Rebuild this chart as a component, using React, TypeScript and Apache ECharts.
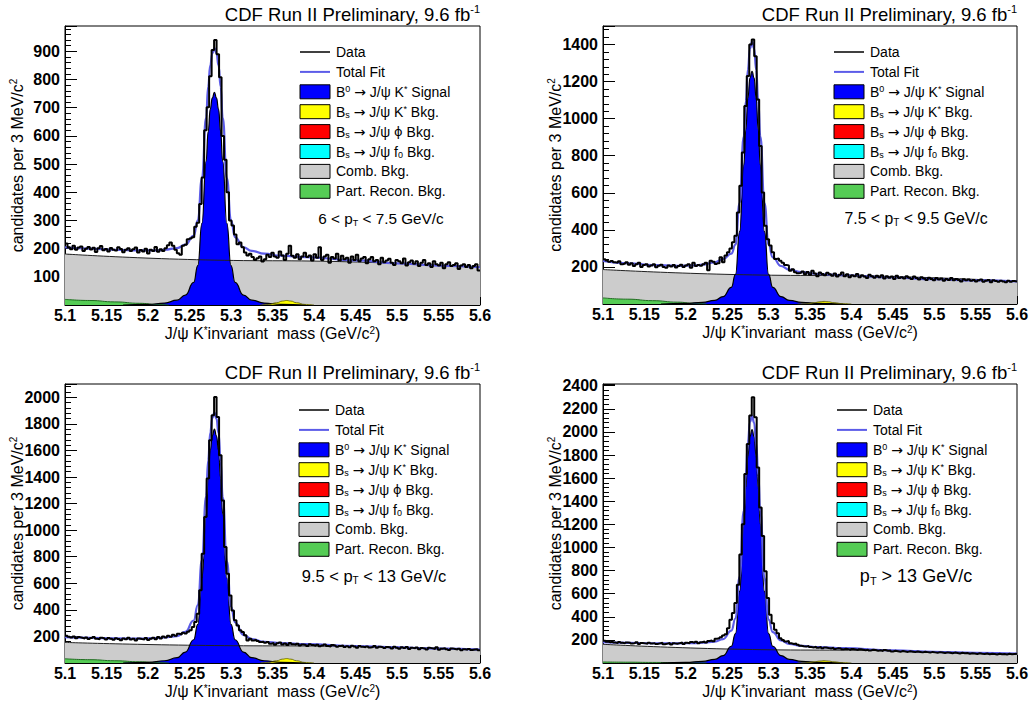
import React, { useEffect, useRef } from 'react';
import * as echarts from 'echarts';

// ---------- axis / binning ----------
const X_MIN = 5.1;
const X_MAX = 5.6;
const N_BINS = 167;
const yMaxes = [990, 1500, 2100, 2415];
const yIntervals = [100, 200, 200, 200];

// ---------- histogram data (candidates per bin) ----------
const p1Data = [
  218, 205, 198, 210, 196, 204, 208, 192, 200, 206,
  197, 203, 188, 201, 209, 194, 199, 190, 202, 196,
  193, 205, 199, 187, 196, 201, 192, 198, 204, 186,
  195, 190, 200, 183, 196, 192, 206, 189,
  198, 192, 201, 212, 222, 210, 196, 184, 178, 210, 214, 233,
  236, 240, 278, 292, 358, 452, 620, 702, 812, 905, 940, 890, 808, 600, 515, 400, 300, 282, 250, 216,
  222, 205, 186, 176, 182, 170, 160, 166, 172, 154, 162,
  178, 170, 185, 172, 168, 190, 176, 160, 182, 210,
  175, 168, 180, 162, 172, 185, 170, 176, 158, 180,
  168, 205, 160, 172, 178, 150, 170, 165, 182, 158,
  175, 162, 168, 150, 172, 160, 178, 155, 165, 170,
  148, 162, 170, 155, 160, 145, 168, 152, 158, 164,
  150, 142, 160, 155, 148, 165, 140, 152, 158, 146,
  155, 138, 150, 160, 142, 148, 135, 155, 145, 140,
  150, 130, 145, 152, 138, 142, 148, 128, 140, 145,
  135, 142, 130, 138, 145, 122,
];
const p2Data = [
  242, 235, 228, 232, 225, 222, 230, 215, 218, 225,
  212, 220, 205, 215, 222, 200, 210, 214, 203, 208,
  215, 198, 206, 212, 200, 195, 208, 203, 210, 197,
  205, 212, 200, 208, 214, 196, 222, 205, 210, 206,
  215, 222, 182, 234, 228, 216, 220, 252, 225, 262,
  279, 300, 333, 368, 494, 638, 817, 1068, 1230, 1400, 1427, 1337, 1104, 853, 602, 422, 350, 315, 279, 243,
  246, 234, 222, 211, 208, 180, 188, 171, 166,
  168, 175, 160, 172, 158, 180, 165, 150, 170, 162, 155, 168,
  160, 152, 165, 148, 158, 170, 150, 160, 145, 155,
  150, 162, 145, 155, 148, 140, 158, 150, 142, 152,
  145, 155, 138, 150, 142, 148, 135, 152, 140, 145,
  138, 150, 142, 135, 148, 140, 132, 145, 138, 130,
  142, 135, 128, 140, 132, 138, 126, 135, 130, 140,
  128, 135, 130, 122, 134, 128, 132, 125, 130, 122,
  128, 132, 120, 126, 130, 118, 128, 124, 120, 126,
  122, 118, 126, 120, 124, 122,
];
const p3Data = [
  205, 198, 192, 200, 186, 195, 190, 185, 192, 180,
  188, 195, 182, 178, 190, 185, 176, 188, 182, 175,
  186, 180, 172, 184, 178, 190, 176, 182, 170, 185,
  180, 176, 188, 174, 182, 190, 178, 196, 185, 200,
  192, 205, 198, 212, 206, 220, 215, 228, 222, 236,
  246, 271, 308, 371, 547, 823, 1099, 1388, 1676, 1865, 2003, 1852, 1563, 1224, 873, 672, 509, 396, 321, 283,
  246, 233, 208, 170, 183, 170, 175, 165, 158,
  160, 152, 158, 145, 150, 138, 148, 155, 140, 146, 135, 150,
  142, 138, 145, 132, 140, 136, 128, 142, 135, 130,
  138, 126, 132, 140, 128, 124, 135, 130, 122, 128,
  132, 120, 126, 118, 130, 124, 115, 128, 122, 118,
  125, 116, 120, 128, 114, 122, 118, 112, 120, 116,
  110, 122, 115, 108, 118, 112, 120, 106, 114, 110,
  116, 104, 112, 108, 102, 114, 110, 105, 118, 100,
  108, 112, 104, 98, 110, 106, 102, 108, 96, 104,
  100, 106, 98, 102, 104, 96,
];
const p4Data = [
  192, 185, 180, 186, 178, 172, 182, 175, 170, 178,
  176, 168, 172, 180, 165, 174, 170, 166, 175, 168,
  172, 164, 170, 176, 162, 168, 174, 160, 170, 166,
  172, 178, 165, 175, 170, 182, 176, 185, 172, 180,
  186, 178, 190, 195, 188, 210, 214, 222, 238, 248,
  301, 374, 432, 519, 678, 939, 1200, 1635, 1896, 2142, 2301, 2128, 1693, 1345, 1099, 794, 562, 417, 345, 287,
  258, 214, 200, 186, 190, 171, 165, 168, 157,
  150, 145, 142, 148, 138, 135, 140, 132, 138, 128, 135, 130,
  126, 132, 122, 128, 125, 118, 124, 120, 115, 122,
  118, 112, 120, 115, 110, 116, 108, 114, 112, 106,
  110, 104, 112, 106, 108, 100, 106, 102, 98, 104,
  100, 96, 102, 98, 94, 100, 96, 92, 98, 94,
  90, 96, 92, 88, 94, 90, 86, 92, 88, 84,
  90, 86, 82, 88, 84, 86, 80, 85, 82, 78,
  84, 80, 78, 82, 76, 80, 78, 74, 80, 76,
  78, 74, 80, 76, 78, 80,
];

// ---------- total fit ----------
const fitX = [5.1, 5.13, 5.16, 5.19, 5.21, 5.22, 5.235, 5.245, 5.255, 5.26, 5.265, 5.27, 5.2725, 5.275, 5.2775, 5.28, 5.2825, 5.285, 5.2875, 5.29, 5.295, 5.3, 5.305, 5.315, 5.325, 5.34, 5.36, 5.39, 5.45, 5.5, 5.55, 5.6];
const p1Fit = [205, 200, 196, 194, 194, 196, 202, 214, 245, 300, 450, 665, 775, 850, 893, 912, 893, 850, 775, 665, 450, 300, 240, 205, 192, 182, 175, 170, 158, 148, 140, 134];
const p2Fit = [232, 220, 210, 206, 208, 212, 225, 242, 272, 320, 545, 905, 1095, 1265, 1378, 1415, 1378, 1265, 1095, 905, 545, 320, 252, 205, 185, 172, 162, 155, 143, 134, 127, 122];
const p3Fit = [195, 190, 185, 184, 188, 192, 203, 235, 320, 435, 775, 1255, 1525, 1735, 1845, 1885, 1840, 1730, 1520, 1250, 765, 425, 305, 212, 180, 160, 150, 142, 128, 118, 108, 100];
const p4Fit = [180, 175, 171, 170, 172, 176, 185, 207, 280, 385, 745, 1320, 1640, 1910, 2085, 2140, 2080, 1900, 1630, 1310, 735, 375, 268, 196, 165, 148, 138, 128, 110, 96, 88, 81];

// ---------- signal component ----------
const sigX = [5.17, 5.2, 5.22, 5.235, 5.245, 5.255, 5.26, 5.265, 5.27, 5.2725, 5.275, 5.2775, 5.28, 5.2825, 5.285, 5.2875, 5.29, 5.295, 5.3, 5.305, 5.315, 5.325, 5.34, 5.36, 5.39];
const p1Sig = [0, 2, 7, 17, 35, 80, 140, 290, 510, 615, 695, 735, 755, 735, 695, 615, 510, 290, 140, 80, 35, 17, 7, 2, 0];
const p2Sig = [0, 3, 9, 20, 40, 90, 160, 390, 750, 940, 1110, 1220, 1255, 1220, 1110, 940, 750, 390, 160, 90, 40, 20, 9, 3, 0];
const p3Sig = [0, 5, 17, 40, 82, 175, 290, 640, 1120, 1390, 1600, 1710, 1760, 1710, 1600, 1390, 1120, 640, 290, 175, 82, 40, 17, 5, 0];
const p4Sig = [0, 5, 14, 31, 64, 145, 255, 620, 1200, 1520, 1790, 1960, 2020, 1960, 1790, 1520, 1200, 620, 255, 145, 64, 31, 14, 5, 0];

// ---------- combinatorial background ----------
const combX = [5.1, 5.35, 5.6];
const p1Comb = [181, 157, 133];
const p2Comb = [186, 154, 122];
const p3Comb = [155, 129, 103];
const p4Comb = [162, 112, 75];

// ---------- partially reconstructed background ----------
const greenX = [5.1, 5.13, 5.16, 5.19, 5.21, 5.225];
const p1Green = [20, 16, 11, 6, 2, 0];
const p2Green = [33, 26, 18, 10, 4, 0];
const p3Green = [32, 25, 17, 9, 3, 0];
const p4Green = [9, 7, 5, 3, 1, 0];

// ---------- Bs -> J/psi K* background ----------
const yelX = [5.335, 5.345, 5.355, 5.362, 5.367, 5.372, 5.379, 5.389, 5.4];
const p1Yel = [0, 2, 8, 14, 16, 14, 8, 2, 0];
const p2Yel = [0, 2, 7, 12, 14, 12, 7, 2, 0];
const p3Yel = [0, 4, 17, 29, 33, 29, 17, 4, 0];
const p4Yel = [0, 3, 10, 17, 20, 17, 10, 3, 0];

// ---------- texts ----------
const titleText = 'CDF Run II Preliminary, 9.6 fb{sup|-1}';
const yTitle = 'candidates per 3 MeV/c{sup|2}';
const xTitle = 'J/ψ K{sup|*}invariant  mass (GeV/c{sup|2})';
const ptLabels = ['6 < p{sub|T} < 7.5 GeV/c', '7.5 < p{sub|T} < 9.5 GeV/c', '9.5 < p{sub|T} < 13 GeV/c', 'p{sub|T} > 13 GeV/c'];
const ptSizes = [15.3, 15.8, 16.5, 18];
const ptOffsets = [316, 313, 309, 313];
const legendLabels = [
  'Data',
  'Total Fit',
  'B{sup|0} {arr|→} J/ψ K{sup|*} Signal',
  'B{sub|s} {arr|→} J/ψ K{sup|*} Bkg.',
  'B{sub|s} {arr|→} J/ψ {sym|ϕ} Bkg.',
  'B{sub|s} {arr|→} J/ψ f{sub|0} Bkg.',
  'Comb. Bkg.',
  'Part. Recon. Bkg.',
];
const legendFills = ['', '', '#0000ff', '#ffff00', '#ff0000', '#00ffff', '#cccccc', '#55cc55'];

const allData = [p1Data, p2Data, p3Data, p4Data];
const allFit = [p1Fit, p2Fit, p3Fit, p4Fit];
const allSig = [p1Sig, p2Sig, p3Sig, p4Sig];
const allComb = [p1Comb, p2Comb, p3Comb, p4Comb];
const allGreen = [p1Green, p2Green, p3Green, p4Green];
const allYel = [p1Yel, p2Yel, p3Yel, p4Yel];

// layout
const grids = [
  { left: 65, top: 26, width: 415, height: 279 },
  { left: 603, top: 26, width: 414, height: 278 },
  { left: 65, top: 384, width: 415, height: 279 },
  { left: 603, top: 384, width: 414, height: 279 },
];
const legendOffsets = [235, 231, 234, 234];

const FONT = '"Liberation Sans", Arial, Helvetica, sans-serif';
const SYMFONT = '"DejaVu Sans", "Liberation Sans", sans-serif';
const FIT_COLOR = '#5c5ce8';

const zip = (xs: number[], ys: number[]) => xs.map((x, i) => [x, ys[i]]);

function richText(x: number, y: number, text: string, size: number, align: string, extra: any = {}, lh = 1.15) {
  return {
    type: 'text',
    x,
    y,
    silent: true,
    ...extra,
    style: {
      text,
      fontFamily: FONT,
      fontSize: size,
      fill: '#000',
      align,
      verticalAlign: 'middle',
      lineHeight: Math.round(size * lh),
      rich: {
        sup: { fontFamily: FONT, fontSize: Math.round(size * 0.62), verticalAlign: 'top', fill: '#000' },
        sub: { fontFamily: FONT, fontSize: Math.round(size * 0.62), verticalAlign: 'bottom', fill: '#000' },
        arr: { fontFamily: SYMFONT, fontSize: size, fill: '#000' },
        sym: { fontFamily: SYMFONT, fontSize: size - 1, fill: '#000' },
      },
    },
  };
}

function buildOption() {
  const binW = (X_MAX - X_MIN) / N_BINS;
  const edges = Array.from({ length: N_BINS + 1 }, (_, i) => X_MIN + i * binW);

  const series: any[] = [];
  const graphic: any[] = [];

  grids.forEach((g, i) => {
    const common = { xAxisIndex: i, yAxisIndex: i, symbol: 'none', showSymbol: false, silent: true, animation: false };
    series.push({
      ...common, type: 'line', data: zip(combX, allComb[i]), smooth: true, smoothMonotone: 'x',
      lineStyle: { color: '#222', width: 1 }, areaStyle: { color: '#cccccc', opacity: 1 },
    });
    series.push({
      ...common, type: 'line', data: zip(greenX, allGreen[i]), smooth: true, smoothMonotone: 'x',
      lineStyle: { color: '#1f6b1f', width: 1 }, areaStyle: { color: '#55cc55', opacity: 1 },
    });
    series.push({
      ...common, type: 'line', data: zip(sigX, allSig[i]), smooth: true, smoothMonotone: 'x',
      lineStyle: { color: '#000', width: 1.2 }, areaStyle: { color: '#0000ff', opacity: 1 },
    });
    series.push({
      ...common, type: 'line', data: zip(yelX, allYel[i]), smooth: true, smoothMonotone: 'x',
      lineStyle: { color: '#555500', width: 0.8 }, areaStyle: { color: '#ffff00', opacity: 1 },
    });
    series.push({
      ...common, type: 'line', data: zip(fitX, allFit[i]), smooth: true, smoothMonotone: 'x',
      lineStyle: { color: FIT_COLOR, width: 2.2 },
    });
    const vals = allData[i];
    const hist = vals.map((v, k) => [edges[k], v]);
    hist.push([X_MAX, vals[vals.length - 1]]);
    series.push({
      ...common, type: 'line', step: 'end', data: hist,
      lineStyle: { color: '#000', width: 2 },
    });

    // titles
    graphic.push(richText(g.left + g.width, g.top - 12, titleText, 18.5, 'right'));
    graphic.push(richText(g.left - 48, g.top + g.height / 2, yTitle, 16, 'center', { rotation: Math.PI / 2 }));
    graphic.push(richText(g.left + g.width / 2, g.top + g.height + 28, xTitle, 16, 'center', {}, 1.0));

    // legend
    const lx = g.left + legendOffsets[i];
    legendLabels.forEach((lab, k) => {
      const ry = g.top + 26 + k * 19.9;
      if (k === 0 || k === 1) {
        graphic.push({
          type: 'line', silent: true,
          shape: { x1: lx, y1: ry, x2: lx + 30, y2: ry },
          style: { stroke: k === 0 ? '#000' : FIT_COLOR, lineWidth: k === 0 ? 1.5 : 2 },
        });
      } else {
        graphic.push({
          type: 'rect', silent: true,
          shape: { x: lx, y: ry - 7, width: 30, height: 14 },
          style: { fill: legendFills[k], stroke: '#000', lineWidth: 1 },
        });
      }
      graphic.push(richText(lx + 36, ry, lab, 14, 'left', {}, 1.1));
    });
    graphic.push(richText(g.left + ptOffsets[i], g.top + 192, ptLabels[i], ptSizes[i], 'center'));
  });

  const xAxis = grids.map((_, i) => ({
    type: 'value', gridIndex: i, min: X_MIN, max: X_MAX, interval: 0.05,
    axisLine: { show: true, onZero: false, lineStyle: { color: '#000', width: 1 } },
    axisTick: { show: true, inside: true, length: 8, lineStyle: { color: '#000', width: 1 } },
    minorTick: { show: true, splitNumber: 5, length: 4, lineStyle: { color: '#000', width: 1 } },
    splitLine: { show: false },
    minorSplitLine: { show: false },
    axisLabel: {
      color: '#000', fontFamily: FONT, fontWeight: 'bold', fontSize: 16, margin: 2,
      showMinLabel: true, showMaxLabel: true,
      formatter: (v: number) => String(parseFloat(v.toFixed(2))),
    },
  }));
  const yAxis = grids.map((_, i) => ({
    type: 'value', gridIndex: i, min: 0, max: yMaxes[i], interval: yIntervals[i],
    axisLine: { show: true, onZero: false, lineStyle: { color: '#000', width: 1 } },
    axisTick: { show: true, inside: true, length: 12, lineStyle: { color: '#000', width: 1 } },
    minorTick: { show: true, splitNumber: 5, length: 6, lineStyle: { color: '#000', width: 1 } },
    splitLine: { show: false },
    axisLabel: {
      color: '#000', fontFamily: FONT, fontWeight: 'bold', fontSize: 16, margin: 5,
      formatter: (v: number) => (v === 0 || Math.abs(v % yIntervals[i]) > 1e-6 ? '' : String(v)),
    },
  }));

  return {
    animation: false,
    backgroundColor: '#ffffff',
    grid: grids.map((g) => ({ ...g, show: true, borderColor: '#000', borderWidth: 1, backgroundColor: '#fff', containLabel: false })),
    xAxis,
    yAxis,
    series,
    graphic,
  };
}

export default function App() {
  const ref = useRef<HTMLDivElement>(null);
  useEffect(() => {
    if (!ref.current) return;
    const chart = echarts.init(ref.current, undefined, { renderer: 'svg' });
    chart.setOption(buildOption() as any);
    return () => chart.dispose();
  }, []);
  return (
    <div
      ref={ref}
      style={{ position: 'fixed', left: 0, top: 0, width: 1032, height: 708, background: '#fff' }}
    />
  );
}
